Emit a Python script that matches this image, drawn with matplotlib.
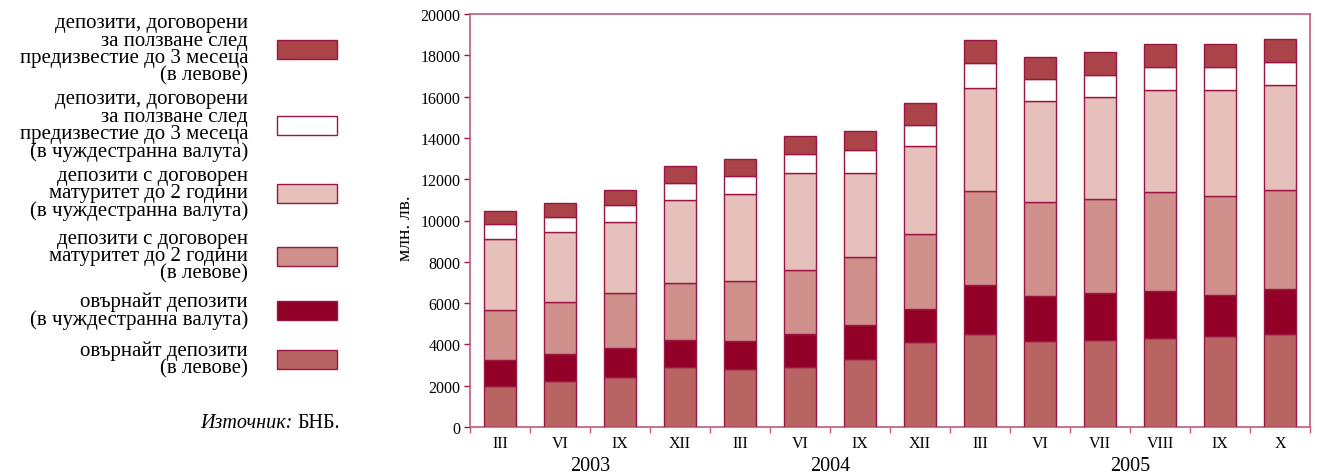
import matplotlib
matplotlib.use("Agg")
import matplotlib.pyplot as plt
from matplotlib.patches import Rectangle
import numpy as np

plt.rcParams['font.family'] = ['Liberation Serif', 'DejaVu Serif']

months = ["III", "VI", "IX", "XII", "III", "VI", "IX", "XII",
          "III", "VI", "VII", "VIII", "IX", "X"]
years = ["2003", "2004", "2005"]
year_counts = [4, 4, 6]

# series (млн. лв.), bottom to top
overnight_bgn = [2000, 2210, 2440, 2920, 2810, 2920, 3310, 4110, 4480, 4180, 4230, 4310, 4390, 4520]
overnight_fx = [1230, 1310, 1380, 1270, 1340, 1580, 1630, 1600, 2390, 2170, 2240, 2290, 2000, 2160]
maturity_bgn = [2420, 2510, 2650, 2780, 2930, 3100, 3270, 3660, 4580, 4570, 4560, 4790, 4820, 4820]
maturity_fx = [3450, 3390, 3480, 4010, 4190, 4720, 4110, 4240, 4970, 4870, 4940, 4950, 5110, 5080]
notice_fx = [710, 740, 780, 840, 880, 920, 1100, 1020, 1190, 1060, 1090, 1100, 1120, 1110]
notice_bgn = [670, 710, 740, 810, 830, 870, 930, 1080, 1120, 1090, 1120, 1090, 1110, 1120]

labels = [
    "депозити, договорени\nза ползване след\nпредизвестие до 3 месеца\n(в левове)",
    "депозити, договорени\nза ползване след\nпредизвестие до 3 месеца\n(в чуждестранна валута)",
    "депозити с договорен\nматуритет до 2 години\n(в чуждестранна валута)",
    "депозити с договорен\nматуритет до 2 години\n(в левове)",
    "овърнайт депозити\n(в чуждестранна валута)",
    "овърнайт депозити\n(в левове)",
]

series = [overnight_bgn, overnight_fx, maturity_bgn, maturity_fx, notice_fx, notice_bgn]
colors = ["#b86463", "#920028", "#cf8f8a", "#e6c1bb", "#ffffff", "#aa4449"]
edge = "#9a1540"
spine_c = "#c25a78"

W, H = 1318, 477
fig = plt.figure(figsize=(W / 100, H / 100), dpi=100)
ax = fig.add_axes([470 / W, 1 - 428 / H, 840 / W, 413 / H])

x = np.arange(len(months))
bottom = np.zeros(len(months))
for vals, c in zip(series, colors):
    v = np.array(vals, dtype=float)
    ax.bar(x, v, bottom=bottom, width=0.54, color=c, edgecolor=edge, linewidth=1.0, zorder=3)
    bottom += v

ax.set_xlim(-0.5, len(months) - 0.5)
ax.set_ylim(0, 20000)
ax.set_yticks(np.arange(0, 20001, 2000))
ax.tick_params(axis='y', direction='out', length=4, width=1, color="#9a1540",
               labelsize=11.5, pad=3)
ax.set_xticks(np.arange(-0.5, len(months) + 0.5, 1))
ax.set_xticklabels([])
ax.tick_params(axis='x', direction='out', length=4, width=1, color=spine_c)
for s in ax.spines.values():
    s.set_color(spine_c)
    s.set_linewidth(1.2)

for i, m in enumerate(months):
    ax.text(i, -0.038, m, transform=ax.get_xaxis_transform(), ha='center', va='center', fontsize=11.5)
start = 0
for yr, n in zip(years, year_counts):
    ax.text(start + (n - 1) / 2, -0.093, yr, transform=ax.get_xaxis_transform(),
            ha='center', va='center', fontsize=14.5)
    start += n

fig.text(405 / W, 1 - 228 / H, "млн. лв.", rotation=90, ha='center', va='center', fontsize=14)

# legend (top to bottom)
legend_order = [5, 4, 3, 2, 1, 0]
centers = [50, 126, 194, 257, 311, 360]
for lab, idx, cy in zip(labels, legend_order, centers):
    fig.text(248 / W, 1 - cy / H, lab, ha='right', va='center', fontsize=15,
             linespacing=0.88)
    fig.patches.append(Rectangle((277 / W, 1 - (cy + 9.5) / H), 60 / W, 19 / H,
                                 transform=fig.transFigure, facecolor=colors[idx],
                                 edgecolor=edge, linewidth=1.0))

fig.text(293 / W, 1 - 424 / H, "Източник:", ha='right', va='center', fontsize=14.5, style='italic')
fig.text(297 / W, 1 - 424 / H, "БНБ.", ha='left', va='center', fontsize=14.5)

fig.savefig("out.png", dpi=100)
